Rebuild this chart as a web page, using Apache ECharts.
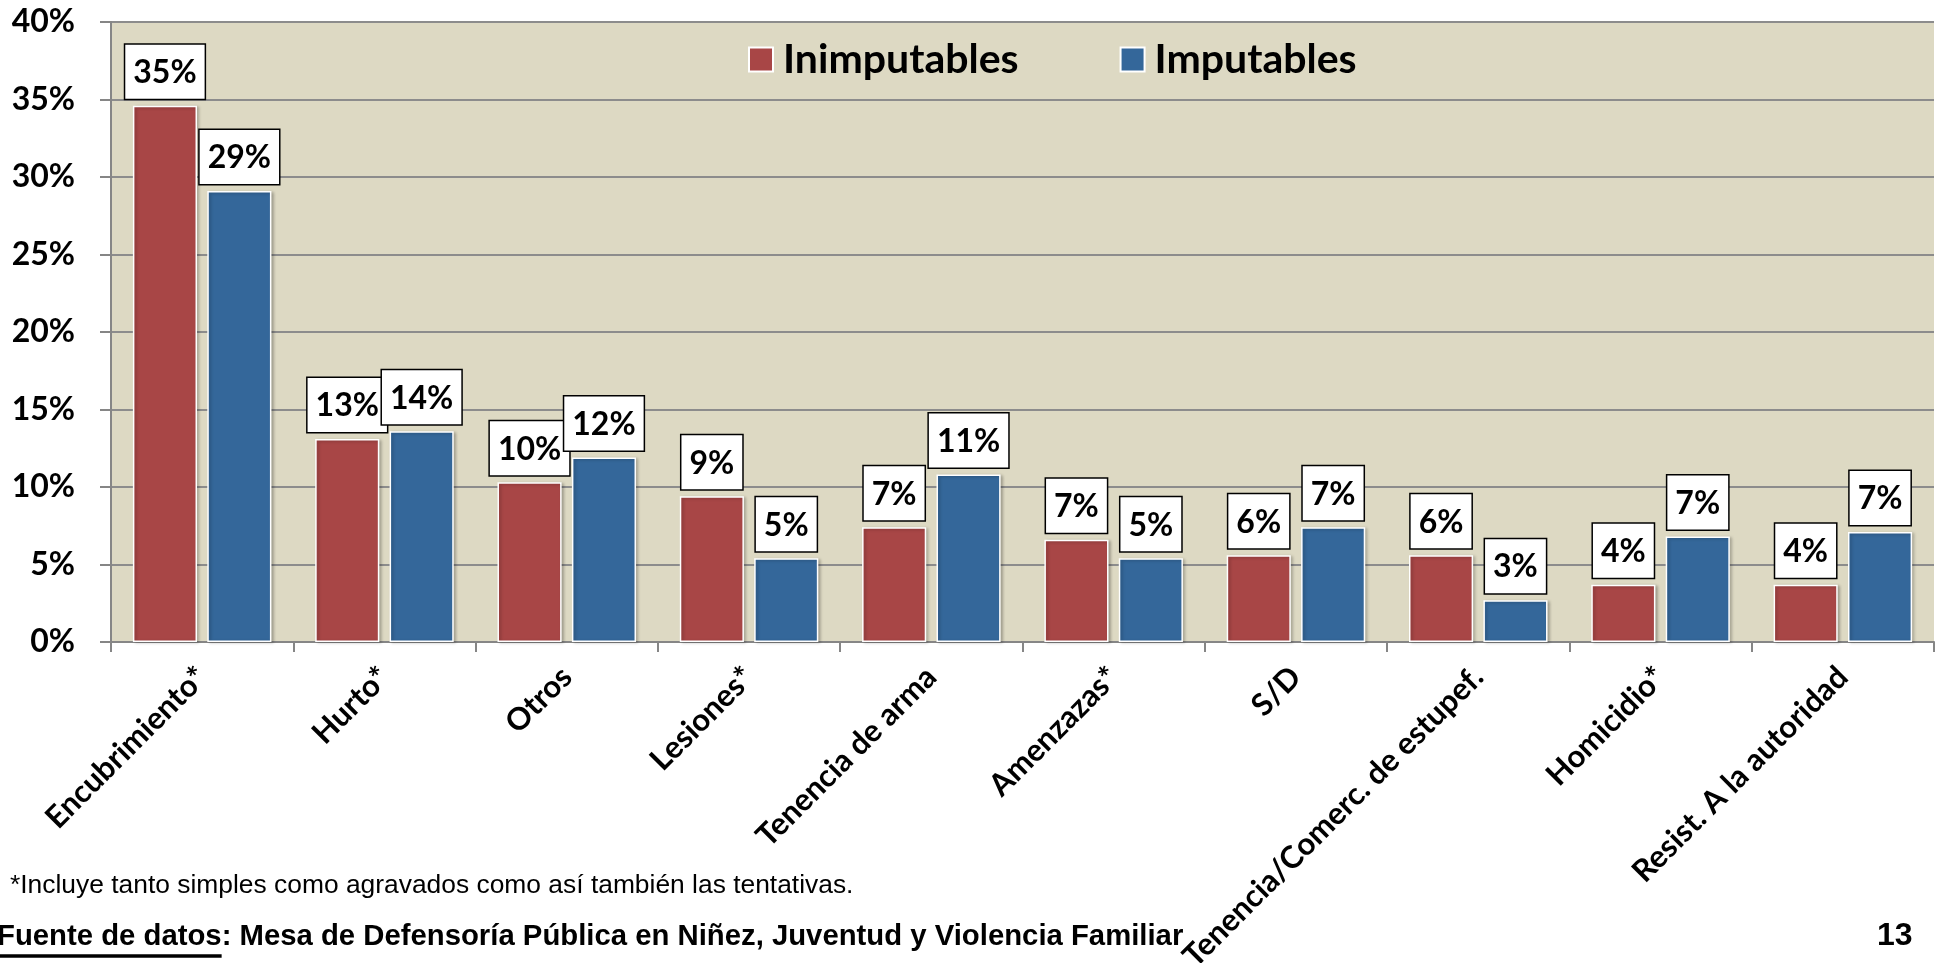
<!DOCTYPE html>
<html><head><meta charset="utf-8">
<script src="https://cdn.jsdelivr.net/npm/echarts@6/dist/echarts.min.js"></script>
<style>html,body{margin:0;padding:0;background:#fff;overflow:hidden}#c{width:1938px;height:963px;}</style>
</head><body><div id="c"></div>
<script>
const categories = ['Encubrimiento*','Hurto*','Otros','Lesiones*','Tenencia de arma','Amenzazas*','S/D','Tenencia/Comerc. de estupef.','Homicidio*','Resist. A la autoridad'];
const inimputables = [34.6,13.1,10.3,9.4,7.4,6.6,5.6,5.6,3.7,3.7];
const imputables = [29.1,13.6,11.9,5.4,10.8,5.4,7.4,2.7,6.8,7.1];
const seriesNames = ['Inimputables','Imputables'];
const yMin = 0, yMax = 40, yInterval = 5;
const footnote = '*Incluye tanto simples como agravados como así también las tentativas.';
const sourceLabel = 'Fuente de datos';
const sourceRest = ': Mesa de Defensoría Pública en Niñez, Juventud y Violencia Familiar';
const pageNumber = '13';

const RED = '#A84646', BLUE = '#34679A', TAN = '#DDD9C3', AXIS = '#868686';
const LATO = 'Lato, "Open Sans", sans-serif';
const ARIAL = '"Liberation Sans", Arial, sans-serif';

const srcSize = 29.3;
const ctx = document.createElement('canvas').getContext('2d');
ctx.font = 'bold ' + srcSize + 'px "Liberation Sans"';
const ulWidth = ctx.measureText(sourceLabel).width;
const srcX = -3;

const chart = echarts.init(document.getElementById('c'));
const labelCfg = {
  show: true, position: 'top', distance: 7,
  formatter: p => Math.round(p.value) + '%',
  fontFamily: LATO, fontWeight: 'bold', fontSize: 32, color: '#000',
  lineHeight: 36, backgroundColor: '#fff', borderColor: '#000', borderWidth: 1.5,
  padding: [10, 8, 8, 8]
};
function bar(name, data, color) {
  return {
    name, type: 'bar', data,
    barCategoryGap: '24%', barGap: '16%',
    itemStyle: { color, borderColor: '#fff', borderWidth: 1.5,
      shadowColor: 'rgba(0,0,0,0.25)', shadowBlur: 3, shadowOffsetX: 2, shadowOffsetY: 1 },
    label: labelCfg
  };
}
chart.setOption({
  animation: false,
  backgroundColor: '#fff',
  grid: { left: 111, right: 4, top: 22, bottom: 321, show: true, backgroundColor: TAN, borderWidth: 0,
          containLabel: false, outerBoundsMode: 'none' },
  legend: {
    left: 748, top: 39, padding: 0, itemWidth: 24, itemHeight: 24, itemGap: 101,
    selectedMode: false, icon: 'rect',
    data: seriesNames,
    textStyle: { fontFamily: LATO, fontWeight: 'bold', fontSize: 41, color: '#000', padding: [0,0,0,5] }
  },
  xAxis: {
    type: 'category', data: categories,
    axisLine: { lineStyle: { color: AXIS, width: 2 } },
    axisTick: { show: true, length: 10, lineStyle: { color: AXIS, width: 2 } },
    axisLabel: { rotate: 45, interval: 0, margin: 30, fontFamily: LATO, fontWeight: 'bold', fontSize: 31, color: '#000' }
  },
  yAxis: {
    type: 'value', min: yMin, max: yMax, interval: yInterval,
    axisLine: { show: true, lineStyle: { color: AXIS, width: 2 } },
    axisTick: { show: true, length: 11, lineStyle: { color: AXIS, width: 2 } },
    axisLabel: { formatter: '{value}%', margin: 36, fontFamily: LATO, fontWeight: 'bold', fontSize: 32, color: '#000' },
    splitLine: { lineStyle: { color: '#8C8C8C', width: 2 } }
  },
  series: [bar(seriesNames[0], inimputables, RED), bar(seriesNames[1], imputables, BLUE)],
  graphic: [
    { type: 'text', x: 10, y: 886, style: { text: footnote, fontFamily: ARIAL, fontSize: 26.4, fill: '#000', verticalAlign: 'middle' } },
    { type: 'text', x: srcX, y: 937, style: { text: sourceLabel + sourceRest, fontFamily: ARIAL, fontWeight: 'bold', fontSize: srcSize, fill: '#000', verticalAlign: 'middle' } },
    { type: 'line', shape: { x1: srcX, y1: 956, x2: srcX + ulWidth, y2: 956 }, style: { stroke: '#000', lineWidth: 3.5 } },
    { type: 'text', x: 1877, y: 936, style: { text: pageNumber, fontFamily: ARIAL, fontWeight: 'bold', fontSize: 32, fill: '#000', verticalAlign: 'middle' } }
  ]
});
</script></body></html>
